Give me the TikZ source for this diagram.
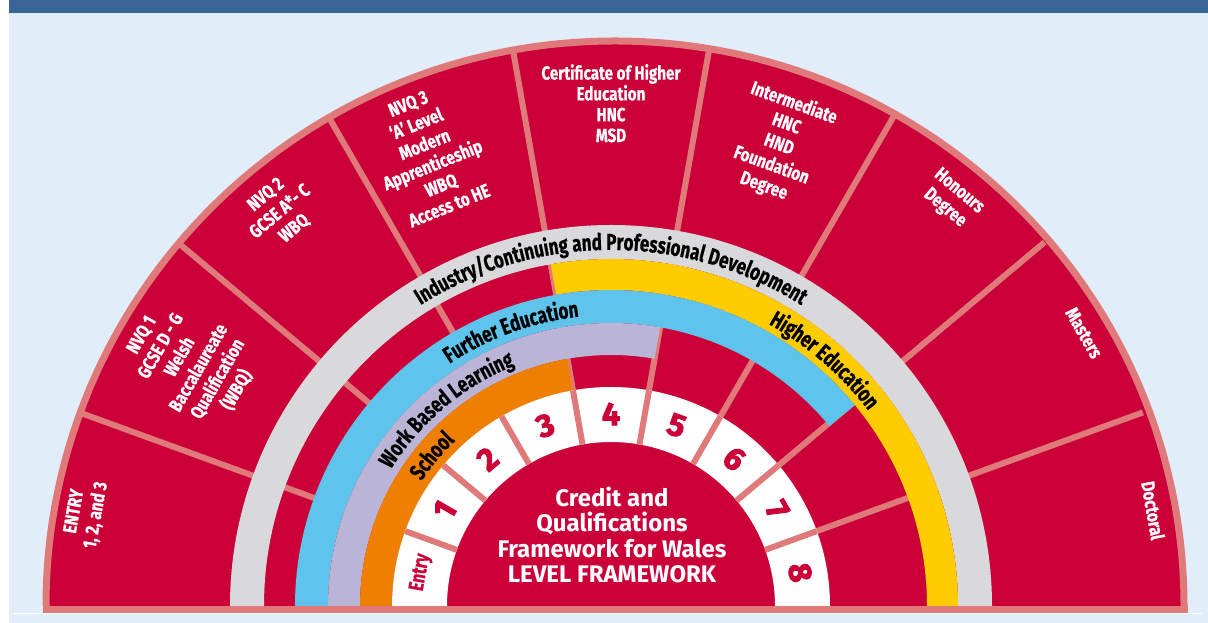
\documentclass[tikz,border=0pt]{standalone}
\usepackage{fontspec}
\setmainfont{Fira Sans}
\newfontfamily\condfont{Fira Sans}[FakeStretch=0.74,FakeBold=0.6]
\newfontfamily\lblfont{Fira Sans}[FakeStretch=0.8,FakeBold=0.6]
\newfontfamily\heavyfont{Fira Sans}[FakeBold=3]
\usetikzlibrary{calc,decorations.text}
\definecolor{cqred}{RGB}{204,0,57}
\definecolor{cqpink}{RGB}{224,122,122}
\definecolor{cqgrey}{RGB}{217,217,219}
\definecolor{cqyellow}{RGB}{255,204,0}
\definecolor{cqblue}{RGB}{94,196,236}
\definecolor{cqlav}{RGB}{186,180,214}
\definecolor{cqorange}{RGB}{238,127,0}
\definecolor{cqbg}{RGB}{225,238,250}
\definecolor{cqbar}{RGB}{56,100,150}
\newcommand\bandfont{\condfont\bfseries\fontsize{23}{23}\selectfont}
\newcommand\bandfill[5]{\fill[#1] ($(C)+(#4:#3)$) arc[start angle=#4,end angle=#5,radius=#3] -- ($(C)+(#5:#2)$) arc[start angle=#5,end angle=#4,radius=#2] -- cycle;}
\begin{document}
\begin{tikzpicture}[x=1pt,y=1pt,
  divider/.style={draw=cqpink,line width=6pt},
  outerlbl/.style={text=white,align=center,inner sep=0pt,anchor=north,font=\lblfont\bfseries\fontsize{19}{22}\selectfont},
  levelnum/.style={text=cqred,inner sep=0pt,font=\heavyfont\bfseries\fontsize{32}{32}\selectfont},
  bandtext/.style={decorate,decoration={text along path,text align=center,text color=black}}]
\useasboundingbox (0,0) rectangle (1208,623);
\fill[cqbg] (0,0) rectangle (1208,623);
\fill[white] (0,0) rectangle (9,623);
\fill[cqbar] (9,610) rectangle (1208,623);
\draw[white,line width=1pt] (13,9.5) -- (1202,9.5);
\coordinate (C) at (611,17);
\coordinate (O) at (615,17);
% outer red half disc
\fill[cqred] ($(O)+(566,0)$) arc[start angle=0,end angle=180,x radius=566,y radius=562] -- cycle;
% radial dividers
\foreach \a in {20,40,...,160}
  \draw[divider] ($(C)+(\a:164)$) -- ($(C)+(\a:566)$);
% coloured bands
\bandfill{cqgrey}{347}{381}{0}{180}
\bandfill{cqyellow}{316}{347}{0}{100}
\bandfill{cqblue}{283}{316}{39.5}{180}
\bandfill{cqlav}{251}{283}{80}{180}
\bandfill{cqorange}{219}{251}{100}{180}
\bandfill{white}{164}{219}{0}{180}
\foreach \a in {20,40,...,160}
  \draw[divider] ($(C)+(\a:164)$) -- ($(C)+(\a:219)$);
% border
\draw[cqpink,line width=7pt] ($(O)+(569,0)$) arc[start angle=0,end angle=180,x radius=569,y radius=565];
\draw[cqpink,line width=7pt] (42.5,13.5) -- (1187.5,13.5);
% band labels
\path[bandtext,decoration={text={|\bandfont|Industry/Continuing and Professional Development}}] ($(C)+(170:356)$) arc[start angle=170,end angle=10,radius=356];
\path[bandtext,decoration={text={|\bandfont|Further Education}}] ($(C)+(150:291)$) arc[start angle=150,end angle=70,radius=291];
\path[bandtext,decoration={text={|\bandfont|Work Based Learning}}] ($(C)+(170:259)$) arc[start angle=170,end angle=90,radius=259];
\path[bandtext,decoration={text={|\bandfont|School}}] ($(C)+(170:227)$) arc[start angle=170,end angle=110,radius=227];
\path[bandtext,decoration={text={|\bandfont|Higher Education}}] ($(C)+(89:323)$) arc[start angle=89,end angle=9,radius=323];
% level numbers
\node[levelnum,rotate=80,font=\condfont\bfseries\fontsize{21}{21}\selectfont] (lvE) at ($(C)+(170:193)$) {Entry};
\foreach \n [count=\i] in {1,...,8}{
  \pgfmathsetmacro\ang{170-20*\i}
  \node[levelnum,rotate=\ang-90] (lv\n) at ($(C)+(\ang:192)$) {\n};
}
% outer labels
\node[outerlbl,rotate=80] (q0) at ($(C)+(170:553)$) {ENTRY\\1, 2, and 3};
\node[outerlbl,rotate=60] (q1) at ($(C)+(150:550)$) {NVQ 1\\GCSE D - G\\Welsh\\Baccalaureate\\Qualification\\(WBQ)};
\node[outerlbl,rotate=40] (q2) at ($(C)+(130:545)$) {NVQ 2\\GCSE A*- C\\WBQ};
\node[outerlbl,rotate=22] (q3) at ($(C)+(112:549)$) {NVQ 3\\‘A’ Level\\Modern\\Apprenticeship\\WBQ\\Access to HE};
\node[outerlbl,rotate=0,font=\lblfont\bfseries\fontsize{19}{20.8}\selectfont] (q4) at ($(C)+(90:542)$) {Certificate of Higher\\Education\\HNC\\MSD};
\node[outerlbl,rotate=-20] (q5) at ($(C)+(70:545)$) {Intermediate\\HNC\\HND\\Foundation\\Degree};
\node[outerlbl,rotate=-40] (q6) at ($(C)+(50:550)$) {Honours\\Degree};
\node[outerlbl,rotate=-60] (q7) at ($(C)+(30:553)$) {Masters};
\node[outerlbl,rotate=-80] (q8) at ($(C)+(10:558)$) {Doctoral};
% centre title
\node[text=white,align=center,inner sep=0pt,font=\bfseries\fontsize{24}{25.5}\selectfont] (title) at (612,88) {Credit and\\Qualifications\\Framework for Wales\\LEVEL FRAMEWORK};
\end{tikzpicture}
\end{document}
